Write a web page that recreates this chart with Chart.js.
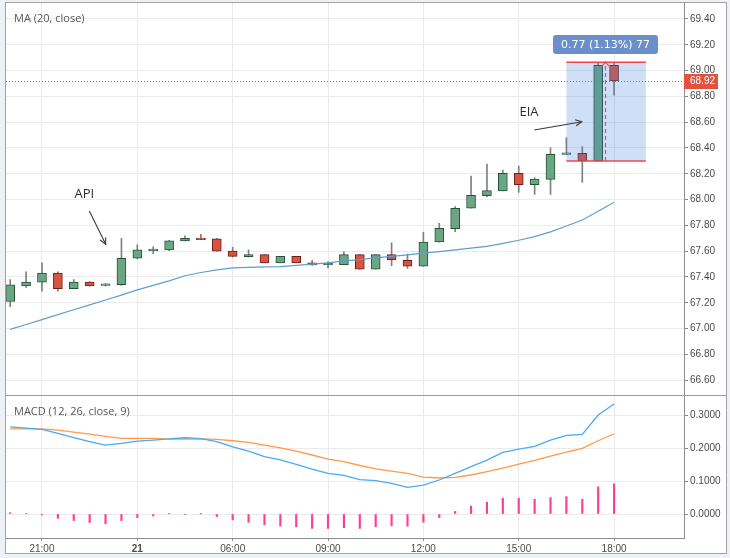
<!DOCTYPE html>
<html><head><meta charset="utf-8">
<script src="https://cdn.jsdelivr.net/npm/chart.js@4.4.1/dist/chart.umd.min.js"></script>
<style>
html,body{margin:0;padding:0;background:#eef1f5;width:730px;height:558px;overflow:hidden;}
#frame{position:absolute;left:5px;top:2px;width:722px;height:552px;box-sizing:border-box;border:1px solid #a3a3a3;background:#fff;}
#sep{position:absolute;left:6px;top:395px;width:720px;height:1px;background:#9c9c9c;}
#pwrap{position:absolute;left:6px;top:3px;width:720px;height:393px;}
#mwrap{position:absolute;left:6px;top:396px;width:720px;height:157px;}
</style></head><body>
<div id="frame"></div>
<div id="pwrap"><canvas id="pc"></canvas></div>
<div id="mwrap"><canvas id="mc"></canvas></div>
<div id="sep"></div>
<script>
// ---- data ----
const timeLabels = ['21:00','21','06:00','09:00','12:00','15:00','18:00'];
const timeTickIdx = [2,8,14,20,26,32,38];
const priceTicks = [66.6,66.8,67.0,67.2,67.4,67.6,67.8,68.0,68.2,68.4,68.6,68.8,69.0,69.2,69.4];
const macdTicks = [0,0.1,0.2,0.3];

const openP  = [67.21,67.33,67.36,67.43,67.31,67.36,67.335,67.34,67.545,67.605,67.61,67.68,67.70,67.695,67.60,67.557,67.573,67.51,67.56,67.51,67.495,67.495,67.573,67.46,67.573,67.529,67.483,67.671,67.775,67.933,68.03,68.067,68.204,68.116,68.157,68.35,68.359,68.30,69.04];
const highP  = [67.38,67.44,67.51,67.44,67.38,67.365,67.35,67.70,67.65,67.635,67.685,67.72,67.73,67.70,67.63,67.61,67.575,67.56,67.56,67.53,67.52,67.595,67.575,67.575,67.665,67.578,67.746,67.816,67.945,68.183,68.276,68.229,68.26,68.17,68.402,68.48,68.41,69.06,69.06];
const lowP   = [67.17,67.32,67.29,67.29,67.31,67.33,67.33,67.335,67.54,67.58,67.605,67.68,67.69,67.60,67.555,67.555,67.51,67.51,67.51,67.49,67.47,67.495,67.46,67.46,67.488,67.467,67.483,67.671,67.752,67.933,68.022,68.067,68.056,68.04,68.04,68.35,68.134,68.30,68.81];
const closeP = [67.34,67.36,67.43,67.31,67.36,67.33,67.345,67.545,67.61,67.61,67.68,67.70,67.69,67.60,67.56,67.573,67.51,67.56,67.51,67.493,67.50,67.573,67.46,67.573,67.532,67.483,67.671,67.777,67.933,68.033,68.069,68.204,68.116,68.16,68.351,68.36,68.302,69.04,68.92];
const ma20   = [66.994,67.032,67.07,67.108,67.146,67.184,67.222,67.26,67.30,67.335,67.37,67.41,67.435,67.455,67.47,67.475,67.478,67.48,67.49,67.50,67.51,67.525,67.535,67.548,67.56,67.572,67.585,67.597,67.61,67.624,67.638,67.66,67.685,67.713,67.75,67.795,67.842,67.91,67.98];

const macdLine   = [0.266,0.262,0.258,0.246,0.233,0.221,0.210,0.2155,0.2226,0.2256,0.229,0.2327,0.230,0.2205,0.205,0.192,0.175,0.165,0.1515,0.137,0.124,0.118,0.105,0.1016,0.0935,0.0813,0.0884,0.1037,0.124,0.1443,0.1646,0.188,0.198,0.2063,0.2256,0.240,0.243,0.302,0.3354];
const signalLine = [0.26,0.26,0.26,0.256,0.25,0.244,0.237,0.231,0.231,0.2305,0.2287,0.2287,0.229,0.2277,0.2235,0.2185,0.21,0.202,0.192,0.18,0.1677,0.1595,0.148,0.138,0.131,0.124,0.1128,0.1098,0.112,0.119,0.129,0.14,0.152,0.1637,0.1768,0.189,0.2,0.2235,0.2448];
const histogram  = [0.004,0.001,-0.003,-0.013,-0.020,-0.026,-0.030,-0.020,-0.011,-0.006,0.001,-0.002,0.0005,-0.008,-0.018,-0.025,-0.033,-0.037,-0.039,-0.044,-0.044,-0.042,-0.044,-0.039,-0.036,-0.037,-0.025,-0.011,0.008,0.024,0.036,0.048,0.048,0.045,0.050,0.053,0.045,0.083,0.092];

const lastPrice = 68.92;
const measureFrom = 35, measureTo = 40, measureLow = 68.30, measureHigh = 69.065, measureMid = 37.46;
const measureText = '0.77 (1.13%) 77', measureLabelPrice = 69.202;
const notes = [
  {text:'API', tx:4.66, ty:68.043, ax1:4.98, ay1:67.912, ax2:6.01, ay2:67.653},
  {text:'EIA', tx:32.65, ty:68.679, ax1:32.98, ay1:68.54, ax2:35.97, ay2:68.604}
];

// ---- derived ----
const xMin = -0.264, xMax = 42.40;
const idx = openP.map((_, i) => i);
const isUp = idx.map(i => closeP[i] >= openP[i]);
const bodyData = idx.map(i => ({x:i, y:[openP[i], closeP[i]]}));
const wickData = idx.map(i => ({x:i, y:[lowP[i], highP[i]]}));
const maData = idx.map(i => ({x:i, y:ma20[i]}));
const macdData = idx.map(i => ({x:i, y:macdLine[i]}));
const sigData = idx.map(i => ({x:i, y:signalLine[i]}));
const histData = idx.map(i => ({x:i, y:histogram[i]}));

const AX_FONT = {family:'"Liberation Sans", Arial, sans-serif', size:10};
const GRID = '#ebebeb', AXIS = '#8c8c8c', TXT = '#4a4a4a';

function arrow(ctx, x1, y1, x2, y2){
  ctx.beginPath(); ctx.moveTo(x1,y1); ctx.lineTo(x2,y2); ctx.stroke();
  const ang = Math.atan2(y2-y1, x2-x1), L = 7;
  ctx.beginPath();
  ctx.moveTo(x2 - L*Math.cos(ang-0.45), y2 - L*Math.sin(ang-0.45));
  ctx.lineTo(x2, y2);
  ctx.lineTo(x2 - L*Math.cos(ang+0.45), y2 - L*Math.sin(ang+0.45));
  ctx.stroke();
}
function rrect(ctx, x, y, w, h, r){
  ctx.beginPath();
  ctx.moveTo(x+r,y); ctx.lineTo(x+w-r,y); ctx.quadraticCurveTo(x+w,y,x+w,y+r);
  ctx.lineTo(x+w,y+h-r); ctx.quadraticCurveTo(x+w,y+h,x+w-r,y+h);
  ctx.lineTo(x+r,y+h); ctx.quadraticCurveTo(x,y+h,x,y+h-r);
  ctx.lineTo(x,y+r); ctx.quadraticCurveTo(x,y,x+r,y); ctx.closePath();
}

const pricePlugin = {
  id:'pricePlugin',
  afterDatasetsDraw(chart){
    const {ctx, chartArea:a} = chart; const x = chart.scales.x, y = chart.scales.y;
    ctx.save();
    ctx.beginPath(); ctx.rect(a.left, a.top, a.right-a.left, a.bottom-a.top); ctx.clip();
    // last price dotted line
    const ly = Math.round(y.getPixelForValue(lastPrice)) + 0.5;
    ctx.strokeStyle = '#e0473a'; ctx.lineWidth = 1; ctx.setLineDash([1,2]);
    ctx.beginPath(); ctx.moveTo(a.left, ly); ctx.lineTo(a.right, ly); ctx.stroke();
    ctx.setLineDash([]);
    // measure box
    const bx1 = x.getPixelForValue(measureFrom), bx2 = x.getPixelForValue(measureTo);
    const by1 = y.getPixelForValue(measureHigh), by2 = y.getPixelForValue(measureLow);
    ctx.fillStyle = 'rgba(63,127,219,0.25)';
    ctx.fillRect(bx1, by1, bx2-bx1, by2-by1);
    ctx.strokeStyle = '#f2444c'; ctx.lineWidth = 1.5;
    ctx.beginPath(); ctx.moveTo(bx1, by1); ctx.lineTo(bx2, by1); ctx.stroke();
    ctx.beginPath(); ctx.moveTo(bx1, by2); ctx.lineTo(bx2, by2); ctx.stroke();
    const mx = Math.round(x.getPixelForValue(measureMid)) + 0.5;
    ctx.lineWidth = 1.2; ctx.setLineDash([4,3]);
    ctx.beginPath(); ctx.moveTo(mx, by2); ctx.lineTo(mx, by1 + 1); ctx.stroke();
    ctx.setLineDash([]);
    ctx.beginPath(); ctx.moveTo(mx-3.5, by1+4); ctx.lineTo(mx, by1); ctx.lineTo(mx+3.5, by1+4); ctx.stroke();
    // label
    ctx.font = '11px "DejaVu Sans", sans-serif';
    const tw = ctx.measureText(measureText).width;
    const lcy = y.getPixelForValue(measureLabelPrice);
    const lw = tw + 16, lh = 19;
    ctx.fillStyle = '#6b8fcb';
    rrect(ctx, mx - lw/2, lcy - lh/2, lw, lh, 3); ctx.fill();
    ctx.fillStyle = '#ffffff'; ctx.textAlign = 'center'; ctx.textBaseline = 'middle';
    ctx.fillText(measureText, mx, lcy + 0.5);
    // notes
    ctx.strokeStyle = '#3a3a3a'; ctx.lineWidth = 1.1; ctx.fillStyle = '#2b2b2b';
    ctx.font = '13px "Open Sans", sans-serif';
    notes.forEach(n => {
      ctx.fillText(n.text, x.getPixelForValue(n.tx), y.getPixelForValue(n.ty));
      arrow(ctx, x.getPixelForValue(n.ax1), y.getPixelForValue(n.ay1), x.getPixelForValue(n.ax2), y.getPixelForValue(n.ay2));
    });
    // title
    ctx.font = '11px "Open Sans", sans-serif'; ctx.fillStyle = '#555555';
    ctx.textAlign = 'left';
    ctx.fillText('MA (20, close)', a.left + 8, a.top + 16);
    ctx.restore();
  },
  afterDraw(chart){
    const {ctx, chartArea:a} = chart; const y = chart.scales.y;
    const ly = y.getPixelForValue(lastPrice);
    ctx.save();
    ctx.fillStyle = '#e2523f';
    ctx.fillRect(a.right, Math.round(ly) - 7, 34, 15);
    ctx.fillStyle = '#ffffff'; ctx.font = '10px "Liberation Sans", Arial, sans-serif';
    ctx.textAlign = 'left'; ctx.textBaseline = 'middle';
    ctx.fillText(lastPrice.toFixed(2), a.right + 6, Math.round(ly) + 0.5);
    ctx.restore();
  }
};

const macdPlugin = {
  id:'macdPlugin',
  afterDatasetsDraw(chart){
    const {ctx, chartArea:a} = chart;
    ctx.save();
    ctx.font = '11px "Open Sans", sans-serif'; ctx.fillStyle = '#555555';
    ctx.textAlign = 'left'; ctx.textBaseline = 'middle';
    ctx.fillText('MACD (12, 26, close, 9)', a.left + 8, a.top + 16);
    ctx.restore();
  }
};

const setTimeTicks = s => { s.ticks = timeTickIdx.map(v => ({value:v})); };

new Chart(document.getElementById('pc'), {
  type:'bar',
  data:{datasets:[
    {type:'line', label:'MA (20, close)', data:maData, borderColor:'#5c9fd0', borderWidth:1.2, pointRadius:0, tension:0, order:0},
    {label:'body', data:bodyData, backgroundColor:isUp.map(u => u ? '#6ba583' : '#d75442'),
      borderColor:isUp.map(u => u ? '#225437' : '#6b1f16'), borderWidth:1, borderSkipped:false,
      barThickness:9, grouped:false, minBarLength:1.5, order:1},
    {label:'wick', data:wickData, backgroundColor:'#7f7f7f', borderWidth:0, barThickness:1, grouped:false, order:2}
  ]},
  options:{
    responsive:true, maintainAspectRatio:false, animation:false,
    layout:{padding:0, autoPadding:false},
    plugins:{legend:{display:false}, tooltip:{enabled:false}},
    scales:{
      x:{type:'linear', min:xMin, max:xMax, offset:false,
        grid:{color:GRID, drawTicks:false, offset:false}, border:{display:false},
        ticks:{display:false}, afterBuildTicks:setTimeTicks,
        afterFit:s => { s.height = 0; s.paddingLeft = 0; s.paddingRight = 0; }},
      y:{type:'linear', position:'right', min:66.4775, max:69.524,
        grid:{color:GRID, tickColor:AXIS, tickLength:4}, border:{display:true, color:AXIS},
        ticks:{padding:2, color:TXT, font:AX_FONT, callback:v => Number(v).toFixed(2)},
        afterBuildTicks:s => { s.ticks = priceTicks.map(v => ({value:v})); },
        afterFit:s => { s.width = 42; s.paddingTop = 0; s.paddingBottom = 0; }}
    }
  },
  plugins:[pricePlugin]
});

new Chart(document.getElementById('mc'), {
  type:'bar',
  data:{datasets:[
    {type:'line', label:'MACD', data:macdData, borderColor:'#49aaf5', borderWidth:1.3, pointRadius:0, tension:0, order:0},
    {type:'line', label:'Signal', data:sigData, borderColor:'#ff9a4a', borderWidth:1.3, pointRadius:0, tension:0, order:1},
    {label:'Histogram', data:histData, backgroundColor:'#ff3f8c', borderWidth:0, barThickness:1.5, grouped:false, order:2}
  ]},
  options:{
    responsive:true, maintainAspectRatio:false, animation:false,
    layout:{padding:0, autoPadding:false},
    plugins:{legend:{display:false}, tooltip:{enabled:false}},
    scales:{
      x:{type:'linear', min:xMin, max:xMax, offset:false,
        grid:{color:GRID, tickColor:AXIS, tickLength:3, offset:false}, border:{display:true, color:AXIS},
        ticks:{padding:2, color:TXT, maxRotation:0, autoSkip:false,
          font:ctx => ({family:AX_FONT.family, size:10, weight:(ctx.index === 1 ? 'bold' : 'normal')}),
          callback:v => { const k = timeTickIdx.indexOf(v); return k >= 0 ? timeLabels[k] : ''; }},
        afterBuildTicks:setTimeTicks,
        afterFit:s => { s.height = 15; s.paddingLeft = 0; s.paddingRight = 0; }},
      y:{type:'linear', position:'right', min:-0.0732, max:0.360,
        grid:{color:GRID, tickColor:AXIS, tickLength:4}, border:{display:true, color:AXIS},
        ticks:{padding:2, color:TXT, font:AX_FONT, callback:v => Number(v).toFixed(4)},
        afterBuildTicks:s => { s.ticks = macdTicks.map(v => ({value:v})); },
        afterFit:s => { s.width = 42; s.paddingTop = 0; s.paddingBottom = 0; }}
    }
  },
  plugins:[macdPlugin]
});
</script>
</body></html>
